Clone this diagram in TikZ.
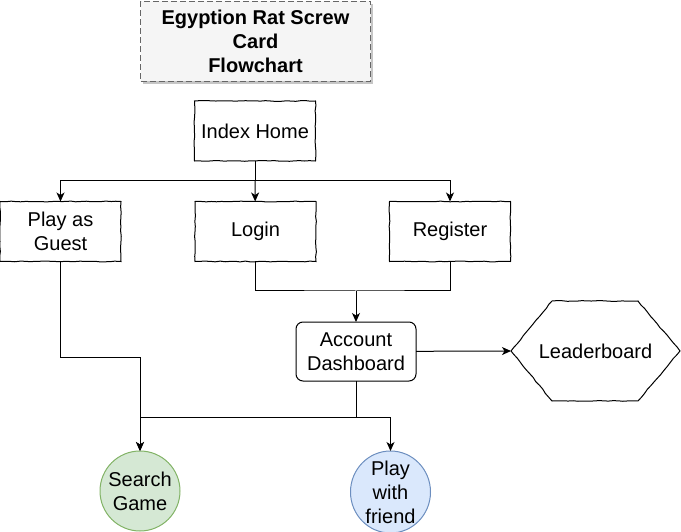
\documentclass[tikz,border=0pt]{standalone}
\usepackage{fontspec}
\setmainfont{Liberation Sans}
\usetikzlibrary{arrows.meta}
\usetikzlibrary{shapes.geometric}
\usetikzlibrary{shadows}
\usetikzlibrary{decorations.pathmorphing}
\definecolor{titlefill}{HTML}{F5F5F5}
\definecolor{titleline}{HTML}{666666}
\definecolor{greenfill}{HTML}{D5E8D4}
\definecolor{greenline}{HTML}{82B366}
\definecolor{bluefill}{HTML}{DAE8FC}
\definecolor{blueline}{HTML}{6C8EBF}
\tikzset{>={Stealth[length=9pt, width=8pt, inset=2.5pt]}}
\tikzset{sketch/.style={decorate, decoration={random steps, segment length=5pt, amplitude=0.4pt}}}
\tikzset{txt/.style={font=\fontsize{20}{24}\selectfont, align=center, outer sep=0pt}}
\tikzset{page/.style={txt, draw, sketch, line width=1pt, minimum width=121pt, minimum height=60pt}}
\tikzset{blob/.style={txt, ellipse, draw, line width=1pt, inner sep=-10pt, minimum width=80pt, minimum height=80pt}}
\pgfmathsetseed{7}

\begin{document}
\begin{tikzpicture}[x=1pt, y=-1pt, line width=1pt]
    \useasboundingbox(0, 0)rectangle(681, 532);
    \node[txt, draw=titleline, dash pattern=on 6pt off 3pt, fill=titlefill, line width=1.1pt, minimum width=230pt, minimum height=80pt, font=\bfseries\fontsize{20}{24}\selectfont, drop shadow={shadow xshift=2.5pt, shadow yshift=-2.5pt, fill=gray, opacity=.45}](title)at(255.5, 41.5){Egyption Rat Screw\\Card\\Flowchart};
    \node[page](index)at(255, 131){Index Home};
    \node[page](guest)at(60.5, 231.5){Play as\\Guest};
    \node[page](login)at(255.5, 231.5){Login};
    \node[page](register)at(450, 231.5){Register};
    \node[txt, draw, line width=1pt, rounded corners=7pt, minimum width=120pt, minimum height=59pt](acct)at(356, 351.5){Account\\Dashboard};
    \node[txt, minimum width=169pt, minimum height=100pt](leader)at(595.5, 351){Leaderboard};
    \draw[sketch](leader.west)--([xshift=41pt]leader.north west)--([xshift=-42pt]leader.north east)--(leader.east)--([xshift=-42pt]leader.south east)--([xshift=41pt]leader.south west)--cycle;
    \node[blob, fill=greenfill, draw=greenline](search)at(140, 491){Search\\Game};
    \node[blob, fill=bluefill, draw=blueline, minimum height=82pt](friend)at(390.5, 492){Play\\with\\friend};
    \coordinate(fork)at(255, 181);
    \coordinate(join)at(356, 291);
    \coordinate(bend)at(60.5, 357);
    \coordinate(split)at(356, 417);
    \draw(index)--(fork);
    \draw[->](fork)-|(guest);
    \draw[->](fork)-|(register);
    \draw[->](fork)--(login);
    \draw(login)|-(join)-|(register);
    \draw[->](join)--(acct);
    \draw[->](acct)--(leader.west);
    \draw[->](guest)--(bend)-|(search);
    \draw(acct)--(split);
    \draw[->](split)-|(search);
    \draw[->](split)-|(friend);
\end{tikzpicture}
\end{document}
